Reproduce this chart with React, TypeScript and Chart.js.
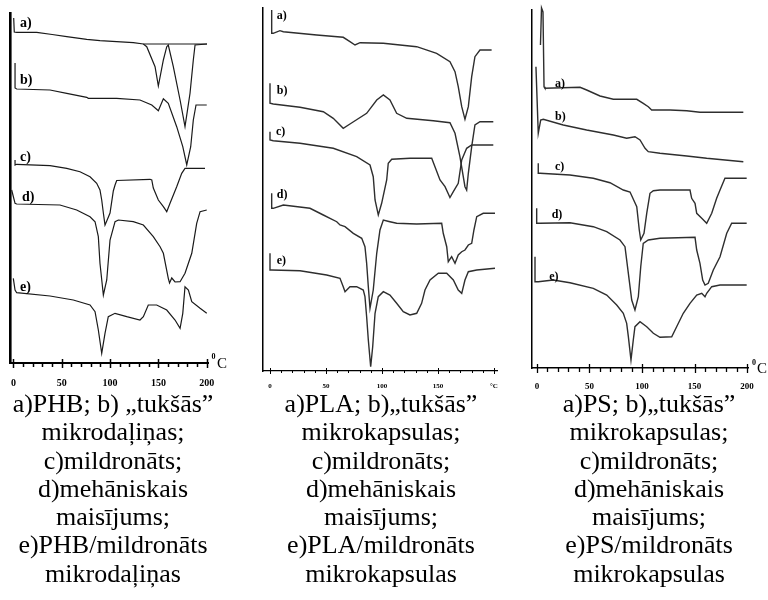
import React, { useEffect, useRef } from "react";
import { Chart, registerables } from "chart.js";
Chart.register(...registerables);

type Pt = [number, number];

// x: temperature (°C), y: DSC signal (arbitrary units, curves offset vertically)
const TEMP_TICKS = [0, 50, 100, 150, 200];
const MINOR_STEP = 10;
const CURVE_LETTERS = ["a)", "b)", "c)", "d)", "e)"];

// ---- Panel 1: PHB ----
const PHB_A: Pt[] = [[0.2,345],[0.8,331],[3.3,330.7],[24,330.7],[40,328.5],[55.1,326.3],[75.8,323.7],[89.5,322.3],[124,320.3],[134.4,319],[137.9,316.3],[146.5,296.3],[149.9,277],[155.1,303],[158.6,316.3],[160.2,318],[165.4,296.3],[172.4,263],[177.5,236.3],[182.7,269.7],[186.1,303],[187.9,318],[200.3,319]];
const PHB_A_BASE: Pt[] = [[134.4,319],[200.3,319]];
const PHB_B: Pt[] = [[1.6,300],[1.6,275],[3.3,274],[37.8,273],[55.1,269.7],[75.8,265.7],[77.4,264.7],[106.8,264.7],[130.9,263],[143.1,258],[149.9,252.3],[155.1,264.3],[160.2,259.7],[168.9,236.3],[175.2,216.3],[179.3,198],[183.4,216.3],[186.1,243],[188.9,258],[200,258]];
const PHB_C: Pt[] = [[1.6,203],[1.6,198],[3.3,198.7],[37.8,197.3],[55.1,194.7],[68.8,191.3],[79.2,186.3],[86.1,179.7],[89.5,173],[91.3,163],[93,150],[94.7,138],[96.5,142],[99.9,150],[103.3,172],[105.1,178],[106.8,182.5],[141.3,183.7],[143.1,183],[144.7,175],[149.9,163],[155.1,156.3],[158.6,151.3],[162,159.7],[168.9,176.3],[174.1,189.7],[177.5,194.7],[198.2,194.7]];
const PHB_D: Pt[] = [[-1.9,173],[1.6,159.7],[3.3,159],[48.1,158],[65.4,153],[79.2,146.3],[84.4,141.3],[87.8,126.3],[89.5,99.7],[93,68],[96.5,83],[99.9,123],[105.1,141.3],[108.5,143],[124,141.3],[134.4,138],[144.7,126.3],[151.7,116.3],[155.1,109.7],[160.2,84.7],[161.5,80],[163.8,85],[167.2,81],[172.4,81.3],[177.5,89.7],[184.5,109.7],[189.6,139.7],[193.1,151.3],[200,153]];
const PHB_E: Pt[] = [[-0.2,84.7],[1.6,73],[3.3,70.3],[37.8,67],[61.9,63],[79.2,58],[84.4,51.3],[87.8,33],[91.3,9.7],[94.7,29.7],[98.1,46.3],[105.1,49.7],[117.2,46.3],[130.9,43],[134.4,46.3],[139.5,58],[148.2,58],[158.6,53],[167.2,43],[172.4,34.7],[175.2,49.7],[177.5,76.3],[181,73],[184.5,61.3],[193.1,54.7],[200,49.7]];
const PHB_LETTERS: Pt[] = [[6.7,340],[6.7,283],[6.7,206],[8.8,166],[6.7,76]];

// ---- Panel 2: PLA ----
const PLA_A: Pt[] = [[1.5,361],[1.5,337.7],[2.9,337.7],[8.9,340.3],[11.9,339.3],[41.7,336],[65.4,333.7],[71.4,329.3],[75.9,326],[80.4,328.3],[101.2,327.7],[131,324.3],[148.8,317.7],[160.7,309.3],[165.2,299.3],[168.1,284.3],[171.2,264.3],[174.1,251.7],[177.1,264.3],[180.1,294.3],[183,314.3],[187.5,321],[197.9,321]];
const PLA_B: Pt[] = [[0,287.7],[0,267.7],[2.9,267],[26.8,263.7],[47.6,259.3],[56.5,252.7],[65.4,242.7],[71.4,247],[86.3,257.7],[95.3,271],[101.2,276],[107.1,271],[113.1,257.7],[122.1,252.7],[145.8,250.3],[160.7,248.3],[165.2,237.7],[169.6,214.3],[174.1,184.3],[175.6,181],[177.1,197.7],[180.1,224.3],[183,246],[187.5,249.3],[199.4,249.3]];
const PLA_C: Pt[] = [[0,239.3],[0,231],[2.9,230.3],[26.8,227.7],[56.5,222.7],[77.4,214.3],[89.3,206],[92.2,194.3],[93.8,171],[96.7,156],[99.7,167.7],[104.2,191],[105.6,207.7],[108.7,211.7],[125,212.7],[144.4,212.7],[147.3,204.3],[151.8,191],[156.3,184.3],[160.7,173.5],[163.7,179.3],[168.1,187.7],[171.2,211],[175.6,222.7],[180.1,226],[199.4,226]];
const PLA_D: Pt[] = [[1.5,177.7],[1.5,162.7],[2.9,162.7],[11.9,166],[35.7,162.7],[47.6,156],[59.6,149.3],[62.5,146],[67,144.3],[74.4,137.7],[81.9,132.7],[84.8,124.3],[86.3,107.7],[87.8,84.3],[89.3,62.7],[92.2,81],[95.3,117.7],[98.2,141],[101.2,151],[107.1,149.3],[113.1,147.7],[131,147],[153.3,147.7],[154.7,137.7],[157.8,124.3],[159.2,109.3],[162.2,114.3],[165.2,107.7],[168.1,116],[171.2,119.3],[174.1,121],[177.1,126],[180.1,127.7],[182.1,141],[184.6,154.3],[190.4,157.7],[200.9,157.7]];
const PLA_E: Pt[] = [[0,117.7],[0,101],[1.5,101],[26.8,100.3],[50.6,96],[62.5,92.7],[65.4,84.3],[67,79.3],[71.4,84.3],[77.4,84.3],[83.3,81],[84.8,74.3],[86.3,54.3],[87.8,31],[89.9,4.3],[91.7,24.3],[93.8,57.7],[96.7,74.3],[101.2,79.3],[107.1,76],[113.1,67.7],[119,59.3],[125,56],[131,57.7],[135.4,67.7],[138.4,81],[142.9,91],[150.3,97.7],[157.8,97.7],[163.7,91],[168.1,81],[171.2,77.7],[174.1,91],[177.1,99.3],[184.6,101],[200.9,102.7]];
const PLA_LETTERS: Pt[] = [[6,355],[6,280.3],[5.4,239.3],[6,176],[6,110.3]];

// ---- Panel 3: PS ----
const PS_A: Pt[] = [[3.3,320],[4.3,357],[5.7,353],[6.7,278.3],[7.6,276.7],[41,277.7],[47.3,275],[60,269],[72.7,265.7],[95,265.7],[101.2,261.7],[106,258.3],[109.2,255],[126.7,255],[142.6,254.3],[155.2,252.7],[196.5,252.7]];
const PS_B: Pt[] = [[-1,298.3],[1.2,231.7],[3.5,245],[6,245.7],[25,240],[47.3,235],[72.7,230],[85.4,226.7],[93.3,228.3],[98.1,225],[102.9,216.7],[106,213.3],[117.1,211.7],[142.6,209],[161.6,206.7],[196.5,203.3]];
const PS_C: Pt[] = [[1.2,201.7],[1.2,191.7],[2.9,191.7],[31.4,190],[53.6,186.7],[69.5,182.3],[82.2,175],[88.6,173],[95,158.3],[97.4,135],[98.8,125],[101.9,131.7],[104.5,151.7],[107.6,171.7],[110.8,174.3],[117.1,175],[145.7,175],[147.3,166.7],[150.5,161.7],[152.1,151.7],[156.9,146.7],[161.6,141.7],[166.4,151.7],[171.1,166.7],[174.3,175],[179,186.7],[199.7,186.7]];
const PS_D: Pt[] = [[-0.3,156.7],[-0.3,141.7],[2.9,141.7],[31.4,142.3],[53.6,138.3],[66.4,133.3],[79,125],[83.8,118.3],[87,91.7],[90.2,65],[93.3,55],[96.5,68.3],[98.8,98.3],[101.2,121.7],[106,125],[117.1,126.7],[150.5,127.7],[152.1,115],[155.2,101.7],[157.8,85],[160,80],[163.1,81.7],[167.9,95],[174.3,108.3],[180.7,131.7],[185.4,141.7],[199.7,141.7]];
const PS_E: Pt[] = [[-1.9,108.3],[-1.9,83.3],[1.2,83.3],[15.5,85],[31.4,82.3],[53.6,76.7],[66.4,70],[75.9,60],[82.2,51.7],[85.4,41.7],[87,28.3],[89.5,5],[91.7,25],[93.3,38.3],[98.1,43.3],[104.5,38.3],[110.8,31.7],[117.1,27.7],[128.3,28.3],[133,38.3],[139.3,51.7],[145.7,61.7],[152.1,70],[156.9,71.7],[160,68.3],[161.6,71.7],[166.4,78.3],[174.3,80],[199.7,80]];
const PS_LETTERS: Pt[] = [[17.1,281],[17.1,248.3],[17.1,198.3],[14,150],[11.7,88.3]];

// ---- Captions ----
const CAPTION_PHB = ["a)PHB; b) \u201Etukšās\u201D", "mikrodaļiņas;", "c)mildronāts;", "d)mehāniskais", "maisījums;", "e)PHB/mildronāts", "mikrodaļiņas"];
const CAPTION_PLA = ["a)PLA; b)\u201Etukšās\u201D", "mikrokapsulas;", "c)mildronāts;", "d)mehāniskais", "maisījums;", "e)PLA/mildronāts", "mikrokapsulas"];
const CAPTION_PS = ["a)PS; b)\u201Etukšās\u201D", "mikrokapsulas;", "c)mildronāts;", "d)mehāniskais", "maisījums;", "e)PS/mildronāts", "mikrokapsulas"];

const SERIF = "'Liberation Serif', 'Times New Roman', serif";

const decorPlugin = {
  id: "decor",
  afterDraw(chart: any, _args: any, opts: any) {
    const { ctx, chartArea } = chart;
    const xs = chart.scales.x;
    const ys = chart.scales.y;
    ctx.save();
    ctx.strokeStyle = opts.tickColor;
    ctx.lineWidth = opts.tickWidth;
    const tMax = TEMP_TICKS[TEMP_TICKS.length - 1];
    for (let t = TEMP_TICKS[0]; t <= tMax; t += MINOR_STEP) {
      const px = Math.round(xs.getPixelForValue(t)) + 0.5;
      const major = TEMP_TICKS.includes(t);
      const [up, down] = major ? opts.major : opts.minor;
      ctx.beginPath();
      ctx.moveTo(px, chartArea.bottom - up);
      ctx.lineTo(px, chartArea.bottom + down);
      ctx.stroke();
    }
    ctx.fillStyle = "#000";
    ctx.font = opts.letterFont;
    ctx.textAlign = "left";
    ctx.textBaseline = "middle";
    (opts.letters as Pt[]).forEach(([t, v], i) => {
      ctx.fillText(CURVE_LETTERS[i], xs.getPixelForValue(t), ys.getPixelForValue(v));
    });
    if (opts.unit) {
      const u = opts.unit;
      ctx.textAlign = "center";
      ctx.font = u.supFont;
      ctx.fillText("0", chartArea.right + u.supDx, chartArea.bottom + u.supDy);
      ctx.font = u.cFont;
      ctx.fillText("C", chartArea.right + u.cDx, chartArea.bottom + u.cDy);
    }
    ctx.restore();
  },
};

type PanelCfg = {
  left: number; w: number; h: number;
  padTop: number; padRight: number; yAxisW: number; xAxisH: number;
  xMin: number; xMax: number; yMin: number; yMax: number;
  curves: Pt[][]; letters: Pt[];
  color: string; lw: number; axisW: [number, number];
  tickFont: number; tickPad: number; lastLabel: string;
  major: [number, number]; minor: [number, number]; tickWidth: number;
  letterFont: string; unit: any;
};

const PANELS: PanelCfg[] = [
  {
    left: 0, w: 240, h: 390, padTop: 13, padRight: 32, yAxisW: 10, xAxisH: 27,
    xMin: -3.62, xMax: 201.3, yMin: 0, yMax: 350,
    curves: [PHB_A, PHB_A_BASE, PHB_B, PHB_C, PHB_D, PHB_E], letters: PHB_LETTERS,
    color: "#1a1a1a", lw: 1.2, axisW: [2, 2.6],
    tickFont: 10, tickPad: 6, lastLabel: "200",
    major: [4, 5], minor: [0, 4], tickWidth: 1.5,
    letterFont: `bold 14px ${SERIF}`,
    unit: { supFont: `bold 8px ${SERIF}`, supDx: 5.5, supDy: -6, cFont: `15px ${SERIF}`, cDx: 14, cDy: 1 },
  },
  {
    left: 245, w: 270, h: 390, padTop: 8, padRight: 18, yAxisW: 18, xAxisH: 19,
    xMin: -6.25, xMax: 202.7, yMin: 0, yMax: 363,
    curves: [PLA_A, PLA_B, PLA_C, PLA_D, PLA_E], letters: PLA_LETTERS,
    color: "#2e2e2e", lw: 1.4, axisW: [1.3, 1.5],
    tickFont: 7, tickPad: 3, lastLabel: "\u00B0C",
    major: [3, 3], minor: [1, 2], tickWidth: 1,
    letterFont: `bold 12px ${SERIF}`,
    unit: null,
  },
  {
    left: 515, w: 253, h: 390, padTop: 10, padRight: 20, yAxisW: 17, xAxisH: 22,
    xMin: -4.76, xMax: 200.95, yMin: -3, yMax: 355,
    curves: [PS_A, PS_B, PS_C, PS_D, PS_E], letters: PS_LETTERS,
    color: "#2e2e2e", lw: 1.4, axisW: [1.5, 1.5],
    tickFont: 9, tickPad: 5, lastLabel: "200",
    major: [4, 5], minor: [0, 4], tickWidth: 1.3,
    letterFont: `bold 12px ${SERIF}`,
    unit: { supFont: `bold 8px ${SERIF}`, supDx: 6, supDy: -5, cFont: `15px ${SERIF}`, cDx: 14, cDy: 1 },
  },
];

const CAPTIONS = [
  { lines: CAPTION_PHB, center: 113 },
  { lines: CAPTION_PLA, center: 381 },
  { lines: CAPTION_PS, center: 649 },
];

function Panel({ cfg }: { cfg: PanelCfg }) {
  const ref = useRef<HTMLCanvasElement>(null);
  useEffect(() => {
    const chart = new Chart(ref.current as HTMLCanvasElement, {
      type: "line",
      data: {
        datasets: cfg.curves.map((c) => ({
          data: c.map(([x, y]) => ({ x, y })),
          borderColor: cfg.color,
          borderWidth: cfg.lw,
          pointRadius: 0,
          fill: false,
          tension: 0,
          clip: false as any,
        })),
      },
      options: {
        responsive: false,
        maintainAspectRatio: false,
        animation: false,
        layout: { padding: { top: cfg.padTop, right: cfg.padRight, left: 0, bottom: 0 } },
        plugins: {
          legend: { display: false },
          tooltip: { enabled: false },
          decor: {
            tickColor: "#000", tickWidth: cfg.tickWidth, major: cfg.major, minor: cfg.minor,
            letters: cfg.letters, letterFont: cfg.letterFont, unit: cfg.unit,
          },
        } as any,
        scales: {
          x: {
            type: "linear",
            min: cfg.xMin,
            max: cfg.xMax,
            afterFit: (s: any) => { s.height = cfg.xAxisH; },
            afterBuildTicks: (s: any) => { s.ticks = TEMP_TICKS.map((v) => ({ value: v })); },
            ticks: {
              callback: (v: any) => (v === TEMP_TICKS[TEMP_TICKS.length - 1] ? cfg.lastLabel : String(v)),
              font: { family: SERIF, size: cfg.tickFont, weight: "bold" },
              color: "#000",
              padding: cfg.tickPad,
              maxRotation: 0,
              autoSkip: false,
            },
            grid: { display: false },
            border: { display: true, color: "#000", width: cfg.axisW[0] },
          },
          y: {
            type: "linear",
            min: cfg.yMin,
            max: cfg.yMax,
            afterFit: (s: any) => { s.width = cfg.yAxisW; },
            ticks: { display: false },
            grid: { display: false },
            border: { display: true, color: "#000", width: cfg.axisW[1] },
          },
        },
      } as any,
      plugins: [decorPlugin as any],
    });
    return () => chart.destroy();
  }, []);
  return (
    <canvas
      ref={ref}
      width={cfg.w}
      height={cfg.h}
      style={{ position: "absolute", left: cfg.left, top: 0, width: cfg.w, height: cfg.h }}
    />
  );
}

export default function App() {
  return (
    <div style={{ position: "absolute", left: 0, top: 0, width: 768, height: 600, background: "#fff", overflow: "hidden" }}>
      {PANELS.map((p, i) => (
        <Panel key={i} cfg={p} />
      ))}
      {CAPTIONS.map((c, i) => (
        <div
          key={i}
          style={{
            position: "absolute",
            left: c.center - 140,
            top: 390,
            width: 280,
            textAlign: "center",
            fontFamily: SERIF,
            fontSize: 26,
            lineHeight: "28.3px",
            color: "#000",
            whiteSpace: "nowrap",
          }}
        >
          {c.lines.map((l, j) => (
            <div key={j}>{l}</div>
          ))}
        </div>
      ))}
    </div>
  );
}
